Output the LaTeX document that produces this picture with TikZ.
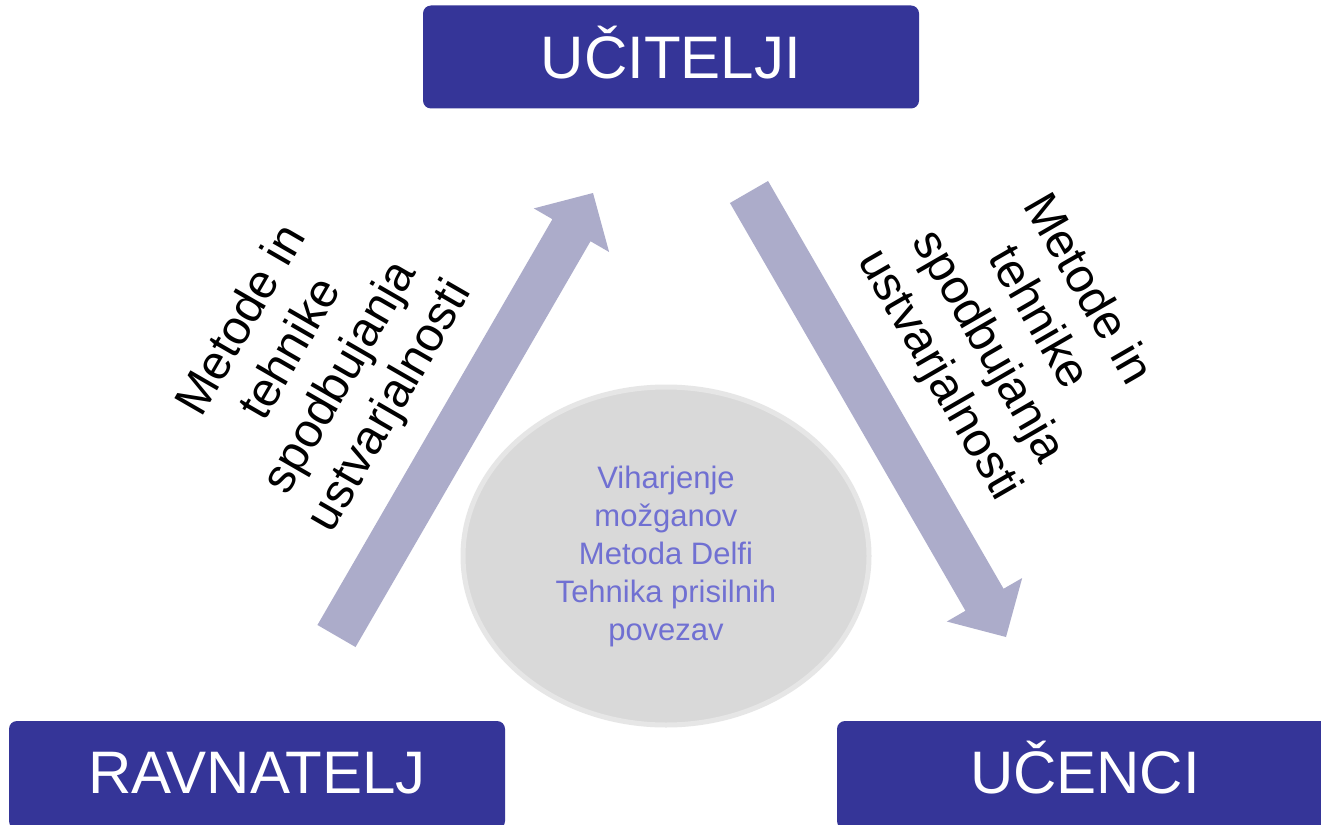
\documentclass[tikz,border=0pt]{standalone}
\usepackage{fontspec}
\setmainfont{Liberation Sans}
\usetikzlibrary{shapes.geometric,calc}
\definecolor{boxblue}{HTML}{353598}
\definecolor{arrowgray}{HTML}{ACACCA}
\definecolor{ellfill}{HTML}{D9D9D9}
\definecolor{ellline}{HTML}{E6E6E6}
\definecolor{elltext}{HTML}{7070D2}
\newcommand\blockarr[2]{%
  \fill[arrowgray]
    ($(#1)!22pt!90:(#2)$) --
    ($($(#2)!43pt!(#1)$)!22pt!90:(#2)$) --
    ($($(#2)!43pt!(#1)$)!43.5pt!90:(#2)$) --
    (#2) --
    ($($(#2)!43pt!(#1)$)!43.5pt!-90:(#2)$) --
    ($($(#2)!43pt!(#1)$)!22pt!-90:(#2)$) --
    ($(#1)!22pt!-90:(#2)$) -- cycle;}
\begin{document}
\begin{tikzpicture}[x=1pt,y=-1pt,
  rolebox/.style={fill=boxblue, rounded corners=8pt, minimum width=496pt,
    minimum height=103pt, inner sep=0pt, text=white,
    font=\fontsize{60}{72}\selectfont, text height=43pt, text depth=0pt},
  lowbox/.style={rolebox, minimum height=108pt, text depth=6pt},
  arrlabel/.style={align=center, text=black, inner sep=0pt,
    font=\fontsize{48}{57}\selectfont},
  centre/.style={ellipse, fill=ellfill, draw=ellline, line width=5pt,
    minimum width=406pt, minimum height=338pt, inner sep=0pt, text=elltext,
    align=center, font=\fontsize{31}{38}\selectfont}
]
\useasboundingbox (0,0) rectangle (1321,824);
\clip (0,0) rectangle (1321,824);
\fill[white] (0,0) rectangle (1321,824);

% block arrows
\coordinate (upTail) at (336.5,636);
\coordinate (upTip) at (593,193);
\coordinate (dnTail) at (749,192);
\coordinate (dnTip) at (1006,637);
\blockarr{upTail}{upTip}
\blockarr{dnTail}{dnTip}

% central ellipse
\node[centre] (methods) at (666,556)
  {Viharjenje\\možganov\\Metoda Delfi\\Tehnika prisilnih\\povezav};

% labels beside arrows
\node[arrlabel, rotate=60] (lblL) at (317,364)
  {Metode in\\tehnike\\spodbujanja\\ustvarjalnosti};
\node[arrlabel, rotate=-60] (lblR) at (1012,333)
  {Metode in\\tehnike\\spodbujanja\\ustvarjalnosti};

% role boxes
\node[rolebox] (ucitelji) at (671,57) {UČITELJI};
\node[lowbox] (ravnatelj) at (257,775) {RAVNATELJ};
\node[lowbox] (ucenci) at (1085,775) {UČENCI};
\end{tikzpicture}
\end{document}
